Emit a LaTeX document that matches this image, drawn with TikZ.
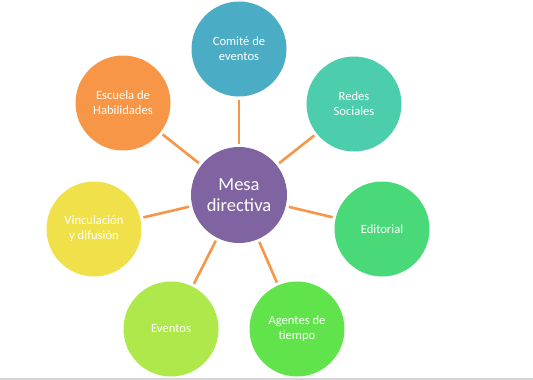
\documentclass[tikz,border=0pt]{standalone}
\usepackage{fontspec}
\setmainfont{Carlito}
\usetikzlibrary{positioning}

\definecolor{mesacol}{RGB}{128,100,162}
\definecolor{comitecol}{RGB}{75,172,198}
\definecolor{redescol}{RGB}{76,206,172}
\definecolor{editcol}{RGB}{74,217,120}
\definecolor{agentcol}{RGB}{97,227,75}
\definecolor{eventcol}{RGB}{174,232,74}
\definecolor{vinccol}{RGB}{240,224,74}
\definecolor{escuelacol}{RGB}{247,150,70}
\definecolor{linkcol}{RGB}{247,150,70}

\tikzset{
  area/.style={circle,minimum size=95pt,inner sep=0pt,text=white,
    align=center,font=\fontsize{12.6}{14.8}\selectfont},
  link/.style={draw=linkcol,line width=2.6pt,shorten >=3pt,shorten <=3pt}
}

\begin{document}
\begin{tikzpicture}[x=1pt,y=1pt]

                \useasboundingbox (0,0) rectangle (533,-380);
                \fill[black!17] (0,-378) rectangle (533,-380);

                \node[area,fill=mesacol,minimum size=96pt,
                      font=\fontsize{18.5}{21.5}\selectfont] (mesa) at (239,-195) {Mesa\\directiva};

                \node[area,fill=comitecol] (comite) at (239,-49) {Comité de\\eventos};

                \node[area,fill=redescol] (redes) at (354,-104) {Redes\\Sociales};

                \node[area,fill=editcol] (editorial) at (382,-229) {Editorial};

                \node[area,fill=agentcol] (agentes) at (297,-329) {Agentes de\\tiempo};

                \node[area,fill=eventcol] (eventos) at (171,-329) {Eventos};

                \node[area,fill=vinccol] (vinculacion) at (94,-229) {Vinculación\\y difusión};

                \node[area,fill=escuelacol] (escuela) at (123,-103) {Escuela de\\Habilidades};

                

                \foreach \to in {comite, redes, editorial, agentes, eventos, vinculacion, escuela}
                    {
                    \path[link] (mesa) -- (\to);
                    }

            \end{tikzpicture}
\end{document}
